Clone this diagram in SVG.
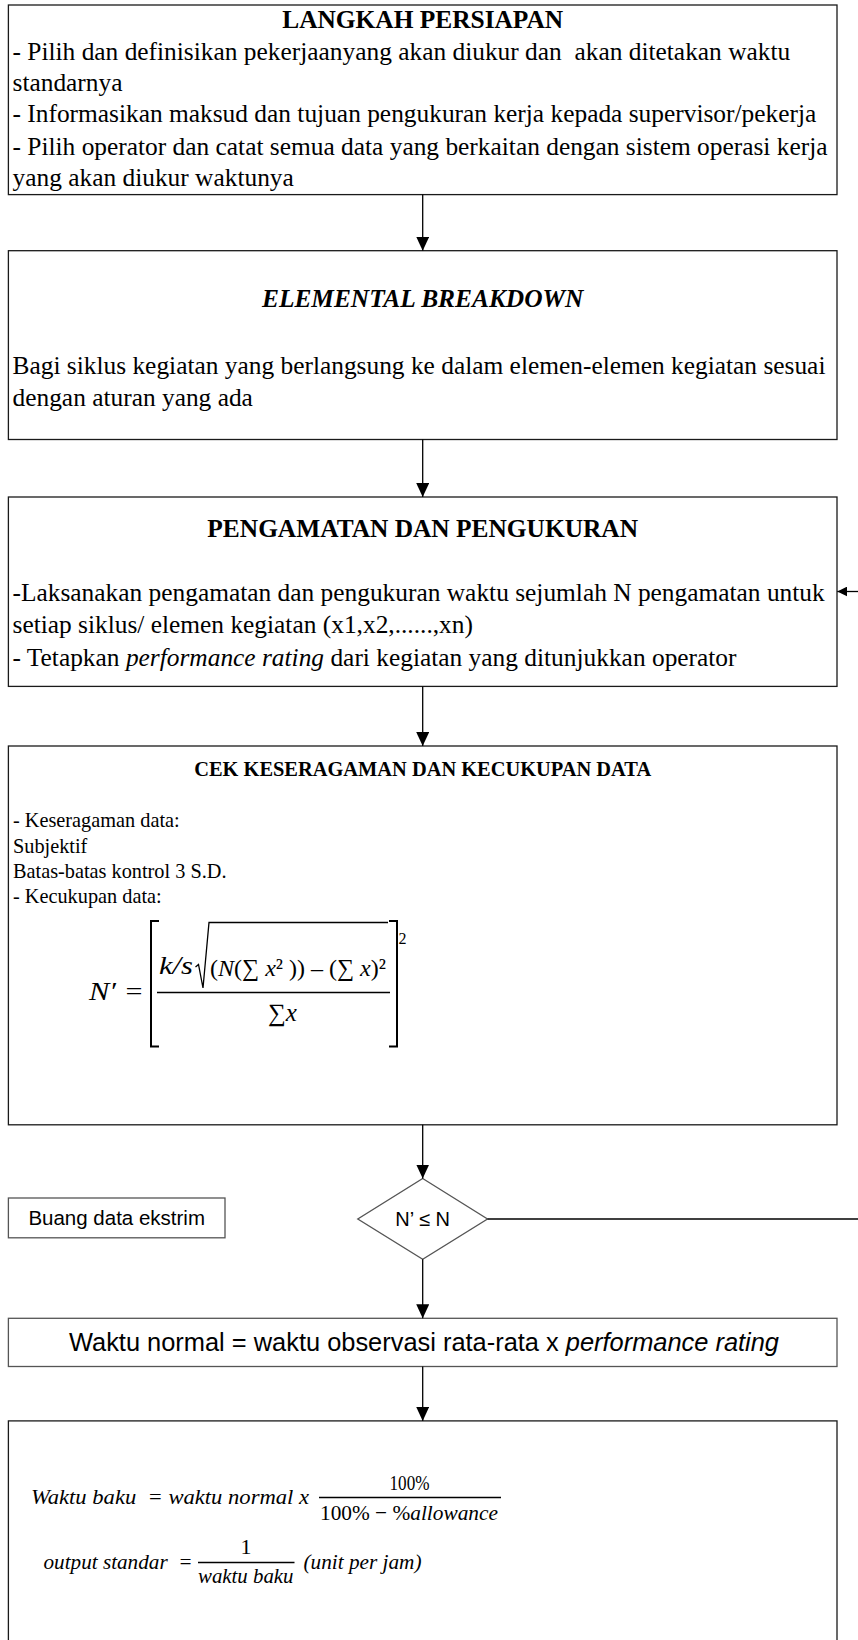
<svg xmlns="http://www.w3.org/2000/svg" width="858" height="1640" viewBox="0 0 858 1640">
  <defs>
    <marker id="arrow" markerUnits="userSpaceOnUse" markerWidth="14" markerHeight="13" refX="14" refY="6.5" orient="auto">
      <path d="M0,0 L14,6.5 L0,13 z" fill="#000"/>
    </marker>
    <marker id="arrowS" markerUnits="userSpaceOnUse" markerWidth="10" markerHeight="10" refX="10" refY="5" orient="auto">
      <path d="M0,0 L10,5 L0,10 z" fill="#000"/>
    </marker>
  </defs>
  <style>
    .box { fill: #fff; stroke: #1a1a1a; stroke-width: 1.3; }
    .gbox { fill: #fff; stroke: #555; stroke-width: 1.3; }
    .serif { font-family: "Liberation Serif", "Times New Roman", serif; fill: #000; }
    .body { font-size: 25.4px; }
    .small { font-size: 20.3px; }
    .bold { font-weight: bold; }
    .it { font-style: italic; }
    .sans { font-family: "Liberation Sans", Arial, sans-serif; fill: #000; }
    .math { font-family: "Liberation Serif", "DejaVu Serif", serif; fill: #000; }
    .conn { fill: none; stroke: #000; stroke-width: 1.3; }
    .rule { fill: none; stroke: #000; stroke-width: 1.3; }
    .brk { fill: none; stroke: #000; stroke-width: 2; }
  </style>

  <rect width="858" height="1640" fill="#fff"/>

  <!-- Step 1: preparation -->
  <g id="langkah-persiapan">
    <rect class="box" x="8.4" y="5" width="828.6" height="189.6"/>
    <text class="serif body bold" x="422.7" y="28" text-anchor="middle">LANGKAH PERSIAPAN</text>
    <text class="serif body" x="12.5" y="59.5" xml:space="preserve">- Pilih dan definisikan pekerjaanyang akan diukur dan  akan ditetakan waktu</text>
    <text class="serif body" x="12.5" y="90.5">standarnya</text>
    <text class="serif body" x="12.5" y="122">- Informasikan maksud dan tujuan pengukuran kerja kepada supervisor/pekerja</text>
    <text class="serif body" x="12.5" y="154.5">- Pilih operator dan catat semua data yang berkaitan dengan sistem operasi kerja</text>
    <text class="serif body" x="12.5" y="185.5">yang akan diukur waktunya</text>
  </g>

  <!-- Step 2: elemental breakdown -->
  <g id="elemental-breakdown">
    <rect class="box" x="8.4" y="250.7" width="828.6" height="188.8"/>
    <text class="serif body bold it" x="422.7" y="306.5" text-anchor="middle">ELEMENTAL BREAKDOWN</text>
    <text class="serif body" x="12.5" y="373.5">Bagi siklus kegiatan yang berlangsung ke dalam elemen-elemen kegiatan sesuai</text>
    <text class="serif body" x="12.5" y="406">dengan aturan yang ada</text>
  </g>

  <!-- Step 3: observation and measurement -->
  <g id="pengamatan-pengukuran">
    <rect class="box" x="8.4" y="497" width="828.6" height="189.4"/>
    <text class="serif body bold" x="422.7" y="536.5" text-anchor="middle">PENGAMATAN DAN PENGUKURAN</text>
    <text class="serif body" x="12.5" y="600.5">-Laksanakan pengamatan dan pengukuran waktu sejumlah N pengamatan untuk</text>
    <text class="serif body" x="12.5" y="633">setiap siklus/ elemen kegiatan (x1,x2,......,xn)</text>
    <text class="serif body" x="12.5" y="665.5">- Tetapkan <tspan class="it">performance rating</tspan> dari kegiatan yang ditunjukkan operator</text>
  </g>

  <!-- Step 4: uniformity and sufficiency check -->
  <g id="cek-data">
    <rect class="box" x="8.4" y="746" width="828.6" height="378.8"/>
    <text class="serif small bold" x="422.7" y="775.5" text-anchor="middle" textLength="457" lengthAdjust="spacingAndGlyphs">CEK KESERAGAMAN DAN KECUKUPAN DATA</text>
    <text class="serif small" x="13" y="827">- Keseragaman data:</text>
    <text class="serif small" x="13" y="852.5">Subjektif</text>
    <text class="serif small" x="13" y="877.5">Batas-batas kontrol 3 S.D.</text>
    <text class="serif small" x="13" y="903">- Kecukupan data:</text>

    <!-- N' = [ k/s sqrt(N(sum x^2) - (sum x)^2) / sum x ]^2 -->
    <g id="rumus-n">
      <text class="math it" x="89" y="1000" font-size="26" textLength="27" lengthAdjust="spacingAndGlyphs">N′</text>
      <text class="math" x="125.5" y="1000" font-size="26" textLength="17" lengthAdjust="spacingAndGlyphs">=</text>
      <path class="brk" d="M159,921 H151 V1046.5 H159"/>
      <path class="brk" d="M389,921 H397 V1046.5 H389"/>
      <text class="math it" x="159" y="974" font-size="25" textLength="34" lengthAdjust="spacingAndGlyphs">k/s</text>
      <path class="rule" d="M195.5,967 L198.5,964.5 L203,988 L209,922.5 H388"/>
      <text class="math" x="210" y="976" font-size="24">(<tspan class="it">N</tspan>(∑ <tspan class="it">x</tspan>² )) – (∑ <tspan class="it">x</tspan>)²</text>
      <line class="rule" x1="157" y1="992.5" x2="390" y2="992.5"/>
      <text class="math" x="268" y="1021" font-size="25">∑<tspan class="it">x</tspan></text>
      <text class="math" x="398.5" y="944" font-size="16">2</text>
    </g>
  </g>

  <!-- Side step: discard extreme data -->
  <g id="buang-data">
    <rect class="gbox" x="8.4" y="1198" width="216.6" height="39.8"/>
    <text class="sans" x="116.7" y="1225" font-size="20.5" text-anchor="middle">Buang data ekstrim</text>
  </g>

  <!-- Decision: sufficient data? -->
  <g id="keputusan">
    <polygon class="gbox" points="422.7,1178.5 487.5,1219 422.7,1259.3 357.8,1219"/>
    <text class="sans" x="422.7" y="1225.5" font-size="20" text-anchor="middle">N’ ≤ N</text>
  </g>

  <!-- Step 5: normal time -->
  <g id="waktu-normal">
    <rect class="gbox" x="8.4" y="1318.3" width="828.6" height="48.2"/>
    <text class="sans" x="424" y="1351" font-size="25" text-anchor="middle" textLength="710" lengthAdjust="spacingAndGlyphs">Waktu normal = waktu observasi rata-rata x <tspan font-style="italic">performance rating</tspan></text>
  </g>

  <!-- Step 6: standard time and standard output -->
  <g id="waktu-baku">
    <rect class="box" x="8.4" y="1420.9" width="828.6" height="260"/>
    <text class="math it" x="31" y="1503.5" font-size="22" textLength="278" lengthAdjust="spacingAndGlyphs" xml:space="preserve">Waktu baku  = waktu normal x</text>
    <text class="math" x="409.5" y="1489.5" font-size="22" text-anchor="middle" textLength="40" lengthAdjust="spacingAndGlyphs">100%</text>
    <line class="rule" x1="319" y1="1497.5" x2="501" y2="1497.5"/>
    <text class="math" x="320" y="1519.5" font-size="22" textLength="178" lengthAdjust="spacingAndGlyphs">100% − %<tspan class="it">allowance</tspan></text>

    <text class="math it" x="43.5" y="1569" font-size="22" textLength="149" lengthAdjust="spacingAndGlyphs" xml:space="preserve">output standar  =</text>
    <text class="math" x="246" y="1553.5" font-size="22" text-anchor="middle">1</text>
    <line class="rule" x1="198" y1="1562.5" x2="294.5" y2="1562.5"/>
    <text class="math it" x="198" y="1582.5" font-size="22" textLength="95.5" lengthAdjust="spacingAndGlyphs">waktu baku</text>
    <text class="math it" x="303.5" y="1569" font-size="22" textLength="118" lengthAdjust="spacingAndGlyphs">(unit per jam)</text>
  </g>

  <!-- Connectors -->
  <g id="connectors">
    <line class="conn" x1="422.7" y1="194.6" x2="422.7" y2="250.7" marker-end="url(#arrow)"/>
    <line class="conn" x1="422.7" y1="439.5" x2="422.7" y2="497" marker-end="url(#arrow)"/>
    <line class="conn" x1="422.7" y1="686.4" x2="422.7" y2="746" marker-end="url(#arrow)"/>
    <line class="conn" x1="422.7" y1="1124.8" x2="422.7" y2="1178.5" marker-end="url(#arrow)"/>
    <line class="conn" x1="422.7" y1="1259.3" x2="422.7" y2="1318.3" marker-end="url(#arrow)"/>
    <line class="conn" x1="422.7" y1="1366.5" x2="422.7" y2="1420.9" marker-end="url(#arrow)"/>
    <!-- loop back to the measurement step -->
    <line class="conn" x1="487.5" y1="1219" x2="860" y2="1219" stroke="#555"/>
    <line class="conn" x1="860" y1="591.5" x2="837.3" y2="591.5" marker-end="url(#arrowS)"/>
  </g>
</svg>
